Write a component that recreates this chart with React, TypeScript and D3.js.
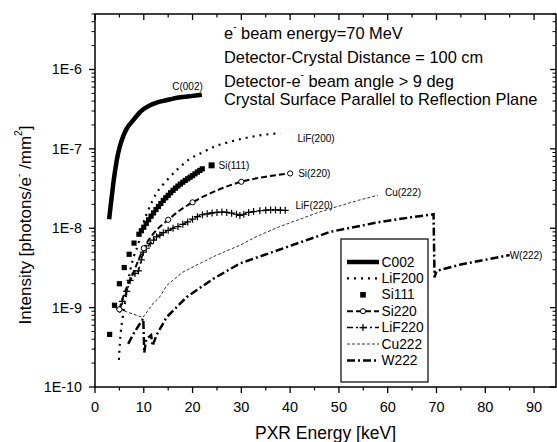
import React from "react";
import * as d3 from "d3";

const W = 557;
const H = 442;
const M = { left: 95, right: 556, top: 14, bottom: 387 };

const xMajor = [0, 10, 20, 30, 40, 50, 60, 70, 80, 90];
const xMinor = [5, 15, 25, 35, 45, 55, 65, 75, 85];
const yMajor = [1e-10, 1e-9, 1e-8, 1e-7, 1e-6];
const yTickLabels = ["1E-10", "1E-9", "1E-8", "1E-7", "1E-6"];

// C(002)
const c002X = [2.9, 3.2, 3.5, 3.75, 4.1, 4.5, 5.1, 5.8, 6.5, 7.85, 9.0, 9.9, 11.3, 12.8, 14.6, 16.0, 18.0, 20.0, 21.9];
const c002Y = [1.3e-8, 1.9e-8, 2.7e-8, 3.65e-8, 5.2e-8, 7.4e-8, 1.08e-7, 1.45e-7, 1.8e-7, 2.3e-7, 2.8e-7, 3.15e-7, 3.55e-7, 3.85e-7, 4.1e-7, 4.3e-7, 4.5e-7, 4.65e-7, 4.8e-7];

// LiF(200)
const lif200X = [4.9, 5.1, 5.3, 5.6, 6.0, 6.5, 7.2, 8.0, 8.9, 10.0, 10.9, 12.5, 14.7, 17.0, 19.5, 22.0, 24.2, 27.5, 31.1, 34.5, 38.0];
const lif200Y = [2.2e-10, 3.5e-10, 5.0e-10, 7.0e-10, 1.0e-9, 1.6e-9, 2.9e-9, 4.5e-9, 6.4e-9, 1.2e-8, 1.68e-8, 2.7e-8, 4.0e-8, 5.6e-8, 7.5e-8, 9.0e-8, 1.05e-7, 1.22e-7, 1.38e-7, 1.5e-7, 1.58e-7];

// Si(111)
const si111X = [3, 4, 5, 6, 7, 8, 9, 9.5, 10, 10.5, 11, 11.5, 12, 12.5, 13, 13.5, 14, 14.5, 15, 15.5, 16, 16.5, 17, 17.5, 18, 18.5, 19, 19.5, 20, 20.5, 21, 21.5, 22];
const si111Y = [4.6e-10, 1.07e-9, 2.0e-9, 3.2e-9, 4.7e-9, 6.5e-9, 8.4e-9, 9.3e-9, 1.03e-8, 1.15e-8, 1.28e-8, 1.42e-8, 1.56e-8, 1.72e-8, 1.88e-8, 2.05e-8, 2.24e-8, 2.42e-8, 2.6e-8, 2.8e-8, 3.0e-8, 3.2e-8, 3.4e-8, 3.6e-8, 3.8e-8, 4.0e-8, 4.2e-8, 4.4e-8, 4.6e-8, 4.85e-8, 5.1e-8, 5.35e-8, 5.6e-8];

// Si(220)
const si220X = [5, 6, 7, 8, 9, 10, 12, 15, 17.5, 20, 25, 30, 35, 40];
const si220Y = [9.5e-10, 1.5e-9, 2.1e-9, 2.9e-9, 4.1e-9, 5.6e-9, 8.6e-9, 1.28e-8, 1.7e-8, 2.12e-8, 3.0e-8, 3.85e-8, 4.45e-8, 4.9e-8];
const si220MarkX = [5, 10, 15, 20, 30, 40];
const si220MarkY = [9.5e-10, 5.6e-9, 1.28e-8, 2.12e-8, 3.85e-8, 4.9e-8];

// LiF(220)
const lif220X = [5.1, 5.6, 6.5, 7.2, 8.2, 8.9, 9.5, 9.9, 10.5, 11.3, 12, 12.6, 13.3, 14, 15, 16, 17, 18, 19, 20, 21, 22, 23, 24, 25, 26, 27, 28, 29, 29.7, 30.5, 31.5, 32.5, 33.8, 35, 36, 37, 38, 39];
const lif220Y = [9.5e-10, 1.2e-9, 1.6e-9, 2.2e-9, 2.7e-9, 2.9e-9, 4.0e-9, 5.0e-9, 5.6e-9, 6.4e-9, 7.1e-9, 7.8e-9, 8.2e-9, 8.8e-9, 9.4e-9, 1.0e-8, 1.05e-8, 1.12e-8, 1.2e-8, 1.3e-8, 1.4e-8, 1.48e-8, 1.52e-8, 1.56e-8, 1.58e-8, 1.6e-8, 1.58e-8, 1.55e-8, 1.5e-8, 1.45e-8, 1.5e-8, 1.58e-8, 1.62e-8, 1.66e-8, 1.68e-8, 1.7e-8, 1.7e-8, 1.68e-8, 1.68e-8];

// Cu(222)
const cu222X = [4.1, 9.8, 12, 13.3, 14.7, 18, 21.5, 25, 29.7, 33, 37.9, 42, 46, 50, 54, 58];
const cu222Y = [1.0e-9, 7.5e-10, 1.15e-9, 1.37e-9, 1.9e-9, 2.8e-9, 3.6e-9, 4.6e-9, 6.1e-9, 7.8e-9, 1.05e-8, 1.3e-8, 1.6e-8, 1.9e-8, 2.25e-8, 2.6e-8];

// W(222)
const w222X = [6.8, 8, 9, 9.9, 10.1, 10.5, 11.5, 11.8, 12.6, 14.7, 18.8, 24.2, 29.7, 37.9, 48.2, 58.4, 65, 69.4, 69.6, 70, 75, 80, 85];
const w222Y = [3.5e-10, 4.8e-10, 6.0e-10, 7.3e-10, 2.7e-10, 4.0e-10, 4.5e-10, 3.3e-10, 4.5e-10, 7.6e-10, 1.36e-9, 2.3e-9, 3.6e-9, 5.4e-9, 9.0e-9, 1.2e-8, 1.38e-8, 1.5e-8, 2.4e-9, 2.9e-9, 3.5e-9, 4.0e-9, 4.6e-9];

const legendNames = ["C002", "LiF200", "Si111", "Si220", "LiF220", "Cu222", "W222"];
const notes = [
  "beam energy=70 MeV",
  "Detector-Crystal Distance = 100 cm",
  "beam angle > 9 deg",
  "Crystal Surface Parallel to Reflection Plane",
];

const FONT = "'Liberation Sans', Arial, sans-serif";

const zip = (xs: number[], ys: number[]) => xs.map((x, i) => [x, ys[i]] as [number, number]);

export default function App() {
  const x = d3.scaleLinear().domain([0, 94.5]).range([M.left, M.right]);
  const y = d3.scaleLog().domain([1e-10, 5e-6]).range([M.bottom, M.top]);
  const line = d3.line<[number, number]>().x((d) => x(d[0])).y((d) => y(d[1]));
  const smooth = d3.line<[number, number]>().x((d) => x(d[0])).y((d) => y(d[1])).curve(d3.curveMonotoneX);
  const yMinor = y.ticks().filter((v) => !yMajor.some((m) => Math.abs(m - v) / m < 1e-6));

  const styles: Record<string, { w: number; dash?: string }> = {
    C002: { w: 4.5 },
    LiF200: { w: 2.2, dash: "2,5" },
    Si220: { w: 2, dash: "6,3" },
    LiF220: { w: 1.5, dash: "6,3,2,3" },
    Cu222: { w: 0.8, dash: "3,2" },
    W222: { w: 2.5, dash: "8,3,2,3" },
  };

  const plus = (cx: number, cy: number, s: number, k: string) => (
    <path key={k} d={`M${cx - s},${cy}H${cx + s}M${cx},${cy - s}V${cy + s}`} stroke="#000" strokeWidth={1.2} fill="none" />
  );

  const legX0 = 347, legX1 = 379, legTop = 239, legBot = 382;
  const legY0 = 262, legDy = 16.4;
  const cEndX = c002X[c002X.length - 1];
  const cEndY = c002Y[c002Y.length - 1];

  return (
    <svg width={W} height={H} style={{ position: "absolute", left: 0, top: 0, background: "#fff" }} fontFamily={FONT}>
      <rect x={0} y={0} width={W} height={H} fill="#fff" />
      {/* curves */}
      <path d={smooth(zip(c002X, c002Y)) || ""} fill="none" stroke="#000" strokeWidth={styles.C002.w} strokeLinejoin="round" />
      <path d={smooth(zip(lif200X, lif200Y)) || ""} fill="none" stroke="#000" strokeWidth={styles.LiF200.w} strokeDasharray={styles.LiF200.dash} />
      <path d={smooth(zip(si220X, si220Y)) || ""} fill="none" stroke="#000" strokeWidth={styles.Si220.w} strokeDasharray={styles.Si220.dash} />
      <path d={line(zip(lif220X, lif220Y)) || ""} fill="none" stroke="#000" strokeWidth={styles.LiF220.w} strokeDasharray={styles.LiF220.dash} />
      <path d={line(zip(cu222X, cu222Y)) || ""} fill="none" stroke="#000" strokeWidth={styles.Cu222.w} strokeDasharray={styles.Cu222.dash} />
      <path d={line(zip(w222X, w222Y)) || ""} fill="none" stroke="#000" strokeWidth={styles.W222.w} strokeDasharray={styles.W222.dash} />
      {/* markers */}
      {si111X.map((v, i) => (
        <rect key={"s" + i} x={x(v) - 2.6} y={y(si111Y[i]) - 2.6} width={5.2} height={5.2} fill="#000" />
      ))}
      {lif220X.map((v, i) => plus(x(v), y(lif220Y[i]), 3.5, "p" + i))}
      {si220MarkX.map((v, i) => (
        <circle key={"c" + i} cx={x(v)} cy={y(si220MarkY[i])} r={2.6} fill="#fff" stroke="#000" strokeWidth={1} />
      ))}

      {/* curve labels */}
      <g fontSize={10} fill="#000">
        <text x={x(cEndX) + 1} y={y(cEndY) - 8} textAnchor="end" dominantBaseline="central">C(002)</text>
        <text x={x(lif200X[lif200X.length - 1]) + 17} y={y(lif200Y[lif200Y.length - 1]) + 5} dominantBaseline="central">LiF(200)</text>
        <rect x={x(23.9) - 3} y={y(6.2e-8) - 3} width={6} height={6} fill="#000" />
        <text x={x(23.9) + 7} y={y(6.2e-8)} dominantBaseline="central">Si(111)</text>
        <text x={x(40) + 8} y={y(4.9e-8)} dominantBaseline="central">Si(220)</text>
        <text x={x(40.5) + 3} y={y(1.68e-8) - 5} dominantBaseline="central">LiF(220)</text>
        <text x={x(58) + 7} y={y(2.6e-8) - 3} dominantBaseline="central">Cu(222)</text>
        <text x={x(85)} y={y(4.6e-9)} dominantBaseline="central">W(222)</text>
      </g>

      {/* notes */}
      <g fontSize={16.4} fill="#000">
        <text x={224} y={33} dominantBaseline="central">e<tspan fontSize={10} dy={-7}>-</tspan><tspan dy={7}> {notes[0]}</tspan></text>
        <text x={224} y={57} dominantBaseline="central">{notes[1]}</text>
        <text x={224} y={81} dominantBaseline="central">Detector-e<tspan fontSize={10} dy={-7}>-</tspan><tspan dy={7}> {notes[2]}</tspan></text>
        <text x={224} y={99} dominantBaseline="central">{notes[3]}</text>
      </g>

      {/* legend */}
      <rect x={341} y={legTop} width={87} height={legBot - legTop} fill="#fff" stroke="#000" strokeWidth={1.2} />
      {legendNames.map((n, i) => {
        const cy = legY0 + i * legDy;
        const cx = (legX0 + legX1) / 2;
        let sample: React.ReactNode = null;
        if (n === "Si111") {
          sample = <rect x={cx - 2.8} y={cy - 2.8} width={5.6} height={5.6} fill="#000" />;
        } else {
          const st = styles[n];
          sample = (
            <g>
              <line x1={legX0} x2={legX1} y1={cy} y2={cy} stroke="#000" strokeWidth={st.w} strokeDasharray={st.dash} />
              {n === "Si220" && <circle cx={cx} cy={cy} r={2.6} fill="#fff" stroke="#000" strokeWidth={1} />}
              {n === "LiF220" && plus(cx, cy, 3.5, "lp")}
            </g>
          );
        }
        return (
          <g key={n}>
            {sample}
            <text x={381.5} y={cy} fontSize={13.8} dominantBaseline="central">{n}</text>
          </g>
        );
      })}

      {/* frame */}
      <rect x={M.left} y={M.top} width={M.right - M.left} height={M.bottom - M.top} fill="none" stroke="#000" strokeWidth={1.5} />
      {/* x ticks */}
      {xMajor.map((v) => (
        <g key={"xm" + v}>
          <line x1={x(v)} x2={x(v)} y1={M.bottom} y2={M.bottom + 6} stroke="#000" strokeWidth={1.3} />
          <line x1={x(v)} x2={x(v)} y1={M.top} y2={M.top + 6} stroke="#000" strokeWidth={1.3} />
          <text x={x(v)} y={407} textAnchor="middle" dominantBaseline="central" fontSize={14.5}>{v}</text>
        </g>
      ))}
      {xMinor.map((v) => (
        <g key={"xn" + v}>
          <line x1={x(v)} x2={x(v)} y1={M.bottom} y2={M.bottom + 3.5} stroke="#000" strokeWidth={1.2} />
          <line x1={x(v)} x2={x(v)} y1={M.top} y2={M.top + 3.5} stroke="#000" strokeWidth={1.2} />
        </g>
      ))}
      {/* y ticks */}
      {yMajor.map((v, i) => (
        <g key={"ym" + i}>
          <line x1={M.left - 6} x2={M.left} y1={y(v)} y2={y(v)} stroke="#000" strokeWidth={1.3} />
          <line x1={M.right - 6} x2={M.right} y1={y(v)} y2={y(v)} stroke="#000" strokeWidth={1.3} />
          <text x={M.left - 13} y={y(v)} textAnchor="end" dominantBaseline="central" fontSize={14.3}>{yTickLabels[i]}</text>
        </g>
      ))}
      {yMinor.map((v, i) => (
        <g key={"yn" + i}>
          <line x1={M.left - 3.5} x2={M.left} y1={y(v)} y2={y(v)} stroke="#000" strokeWidth={1} />
          <line x1={M.right - 3.5} x2={M.right} y1={y(v)} y2={y(v)} stroke="#000" strokeWidth={1} />
        </g>
      ))}

      {/* axis titles */}
      <text x={325.5} y={433} textAnchor="middle" dominantBaseline="central" fontSize={17.5}>PXR Energy [keV]</text>
      <text transform={`translate(25,225) rotate(-90)`} textAnchor="middle" dominantBaseline="central" fontSize={17}>
        Intensity [photons/e<tspan fontSize={10} dy={-7}>-</tspan><tspan dy={7}> /mm</tspan><tspan fontSize={10} dy={-7}>2</tspan><tspan dy={7}>]</tspan>
      </text>
    </svg>
  );
}
